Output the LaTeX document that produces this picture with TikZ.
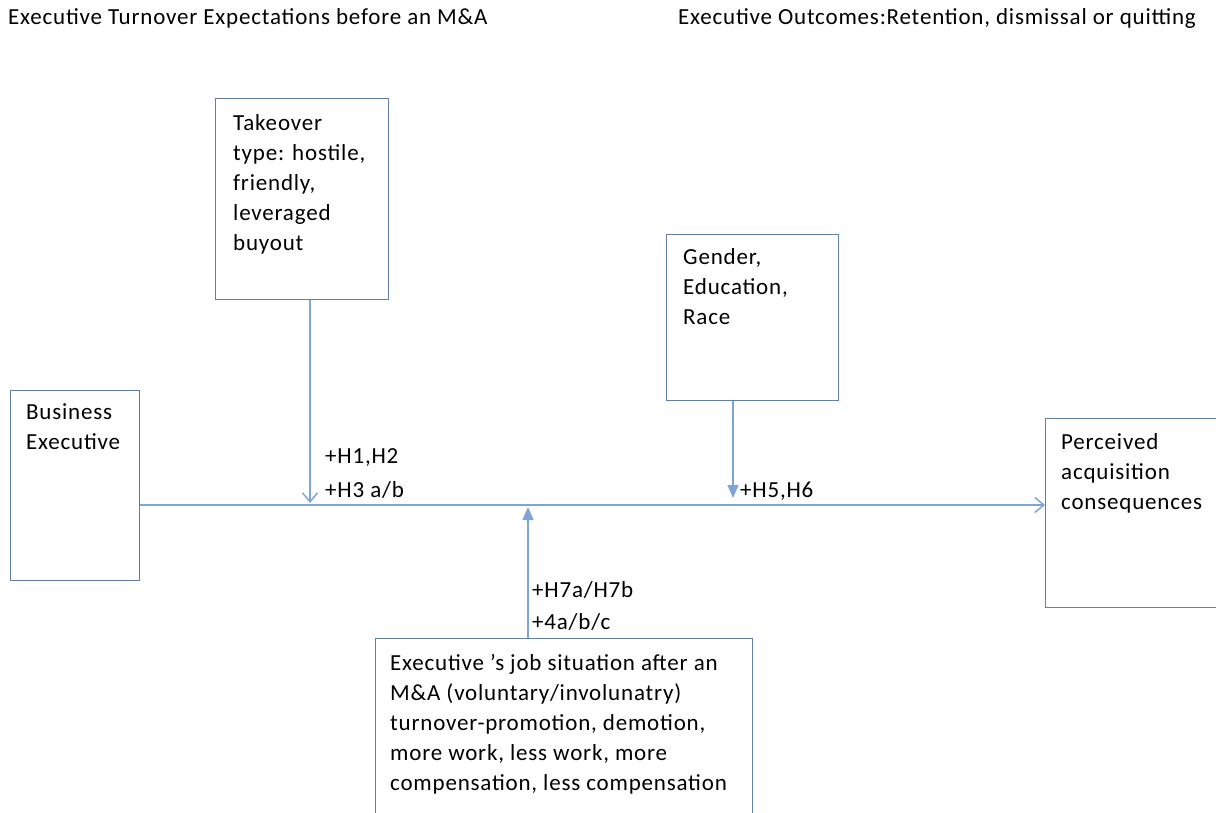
\documentclass[tikz,border=0pt]{standalone}
\usepackage{fontspec}
\setmainfont[LetterSpace=3.5]{Carlito}
\usetikzlibrary{arrows.meta, positioning}
\definecolor{boxedge}{RGB}{96,128,168}
\definecolor{linkblue}{RGB}{125,165,215}

\begin{document}
\begin{tikzpicture}[
    x=1pt, y=-1pt,
    font=\fontsize{23}{30}\selectfont,
    box/.style={rectangle, draw=boxedge, line width=1.2pt, anchor=north west, inner sep=0pt},
    txt/.style={anchor=north west, inner sep=0pt, align=left},
    barb/.style={-{Straight Barb[length=9pt, width=15pt, line width=1.5pt]}, draw=linkblue, line width=1.5pt},
    tri/.style={-{Triangle[length=13pt, width=11pt]}, draw=linkblue, line width=1.5pt}
]
    \useasboundingbox (0,0) rectangle (1216,813);
    % titles
    \node[txt] (lefttitle) at (8,8) {Executive Turnover Expectations before an M\&A};
    \node[txt] (righttitle) at (678,8) {Executive Outcomes:Retention, dismissal or quitting};
    % boxes
    \node[box, minimum width=129pt, minimum height=190pt] (bus) at (10,390) {};
    \node[box, minimum width=173pt, minimum height=201pt] (take) at (215,98) {};
    \node[box, minimum width=172pt, minimum height=166pt] (gen) at (666,234) {};
    \node[box, minimum width=171pt, minimum height=189pt] (per) at (1045,418) {};
    \node[box, minimum width=377pt, minimum height=190pt] (job) at (375,638) {};
    \node[txt] (bustxt) at (26,403) {Business\\Executive};
    \node[txt] (taketxt) at (233,114) {Takeover\\type: hostile,\\friendly,\\leveraged\\buyout};
    \node[txt] (gentxt) at (683,248) {Gender,\\Education,\\Race};
    \node[txt] (pertxt) at (1061,433) {Perceived\\acquisition\\consequences};
    \node[txt] (jobtxt) at (390,654) {Executive 's job situation after an\\M\&A (voluntary/involunatry)\\turnover-promotion, demotion,\\more work, less work, more\\compensation, less compensation};
    % links
    \coordinate (mainy) at (0,505);
    \draw[barb] (bus.east |- mainy) -- (per.west |- mainy);
    \coordinate (h1) at (310,503);
    \draw[barb] (take.south -| h1) -- (h1);
    \coordinate (h5) at (733,498);
    \draw[tri] (gen.south -| h5) -- (h5);
    \coordinate (h7) at (528,507);
    \draw[tri] (job.north -| h7) -- (h7);
    % hypothesis labels
    \node[txt] (lab1) at (325,448) {+H1,H2};
    \node[txt] (lab3) at (325,481) {+H3 a/b};
    \node[txt] (lab5) at (740,482) {+H5,H6};
    \node[txt] (lab7) at (532,581) {+H7a/H7b};
    \node[txt] (lab4) at (532,613) {+4a/b/c};
\end{tikzpicture}
\end{document}
